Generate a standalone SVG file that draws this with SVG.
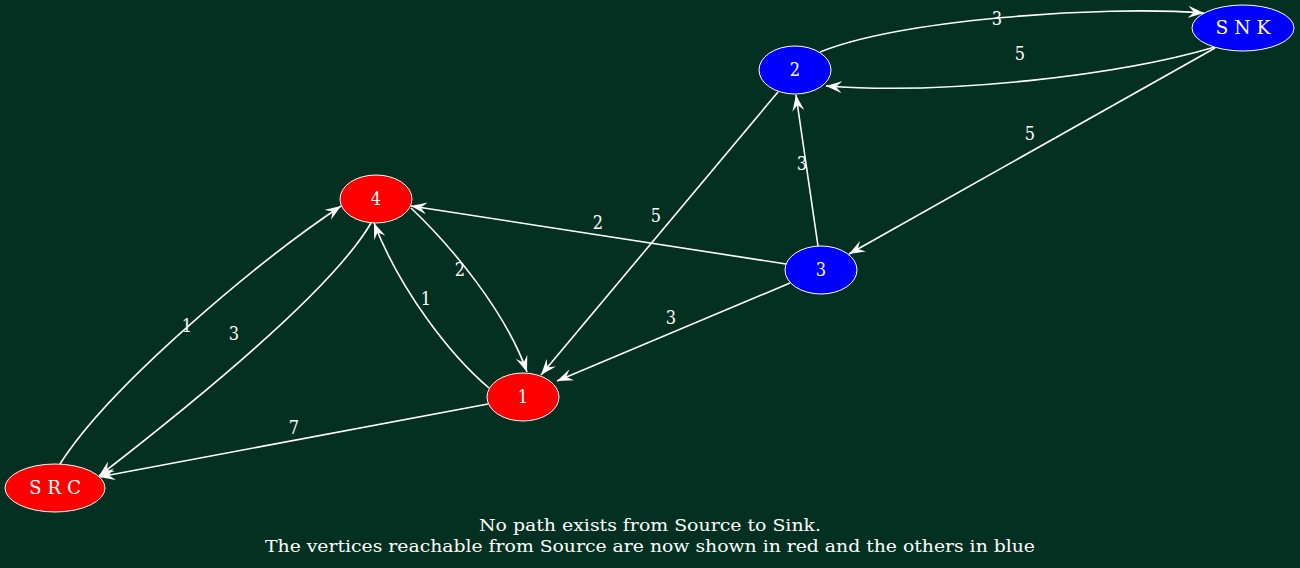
<svg xmlns="http://www.w3.org/2000/svg" width="1300" height="568" viewBox="0 0 1300 568">
<style>
.bg{fill:#033020}
.e{fill:none;stroke:#ffffff;stroke-width:1.6;marker-end:url(#vee)}
.n ellipse{stroke:#ffffff;stroke-width:1}
.red{fill:#ff0000}
.blue{fill:#0000ff}
.nl{font-family:"DejaVu Serif Condensed","DejaVu Serif",serif;font-size:18px;fill:#ffffff;text-anchor:middle}
.el{font-family:"DejaVu Serif Condensed","DejaVu Serif",serif;font-size:18px;fill:#ffffff;text-anchor:middle}
.ft{font-family:"DejaVu Serif Condensed","DejaVu Serif",serif;font-size:17px;fill:#ffffff;text-anchor:middle}
</style>
<defs>
<marker id="vee" viewBox="0 0 16 12" refX="16" refY="6" markerWidth="16" markerHeight="12" markerUnits="userSpaceOnUse" orient="auto">
<path d="M0,0 L16,6 L0,12 L6,6 Z" fill="#ffffff"/>
</marker>
</defs>
<rect class="bg" x="0" y="0" width="1300" height="568"/>
<g id="connectors">
<path class="e" d="M820,52 C900,20 1100,5 1204,13"/>
<path class="e" d="M1215,47 C1120,75 950,95 826,86"/>
<path class="e" d="M1215,48 L849,254"/>
<path class="e" d="M818,246 L796,95"/>
<path class="e" d="M778,92 L541,375"/>
<path class="e" d="M786,264 L411,206"/>
<path class="e" d="M790,283 L557,381"/>
<path class="e" d="M411,208 C450,245 505,310 527,372"/>
<path class="e" d="M489,388 C450,355 400,290 374,223"/>
<path class="e" d="M60,464 C110,385 260,260 341,206"/>
<path class="e" d="M371,223 C335,285 210,390 99,476"/>
<path class="e" d="M488,404 L99,477"/>
<text class="el" x="997" y="25">3</text>
<text class="el" x="1020" y="60">5</text>
<text class="el" x="1030" y="140">5</text>
<text class="el" x="802" y="170">3</text>
<text class="el" x="656" y="222">5</text>
<text class="el" x="598" y="229">2</text>
<text class="el" x="671" y="324">3</text>
<text class="el" x="460" y="276">2</text>
<text class="el" x="426" y="305">1</text>
<text class="el" x="187" y="332">1</text>
<text class="el" x="234" y="340">3</text>
<text class="el" x="294" y="434">7</text>
</g>
<g id="node-snk" class="n"><ellipse class="blue" cx="1243" cy="28" rx="51" ry="23"/><text class="nl" x="1243" y="34" textLength="55" lengthAdjust="spacingAndGlyphs">S N K</text></g>
<g id="node-2" class="n"><ellipse class="blue" cx="795" cy="70" rx="36" ry="24"/><text class="nl" x="795" y="76">2</text></g>
<g id="node-3" class="n"><ellipse class="blue" cx="821" cy="270" rx="36" ry="24"/><text class="nl" x="821" y="276">3</text></g>
<g id="node-4" class="n"><ellipse class="red" cx="376" cy="199" rx="36" ry="24"/><text class="nl" x="376" y="205">4</text></g>
<g id="node-1" class="n"><ellipse class="red" cx="523" cy="397" rx="36" ry="24"/><text class="nl" x="523" y="403">1</text></g>
<g id="node-src" class="n"><ellipse class="red" cx="55" cy="488" rx="50" ry="24"/><text class="nl" x="55" y="494" textLength="52" lengthAdjust="spacingAndGlyphs">S R C</text></g>
<g id="caption">
<text class="ft" x="650" y="531" textLength="342" lengthAdjust="spacingAndGlyphs">No path exists from Source to Sink.</text>
<text class="ft" x="650" y="552" textLength="770" lengthAdjust="spacingAndGlyphs">The vertices reachable from Source are now shown in red and the others in blue</text>
</g>
</svg>
